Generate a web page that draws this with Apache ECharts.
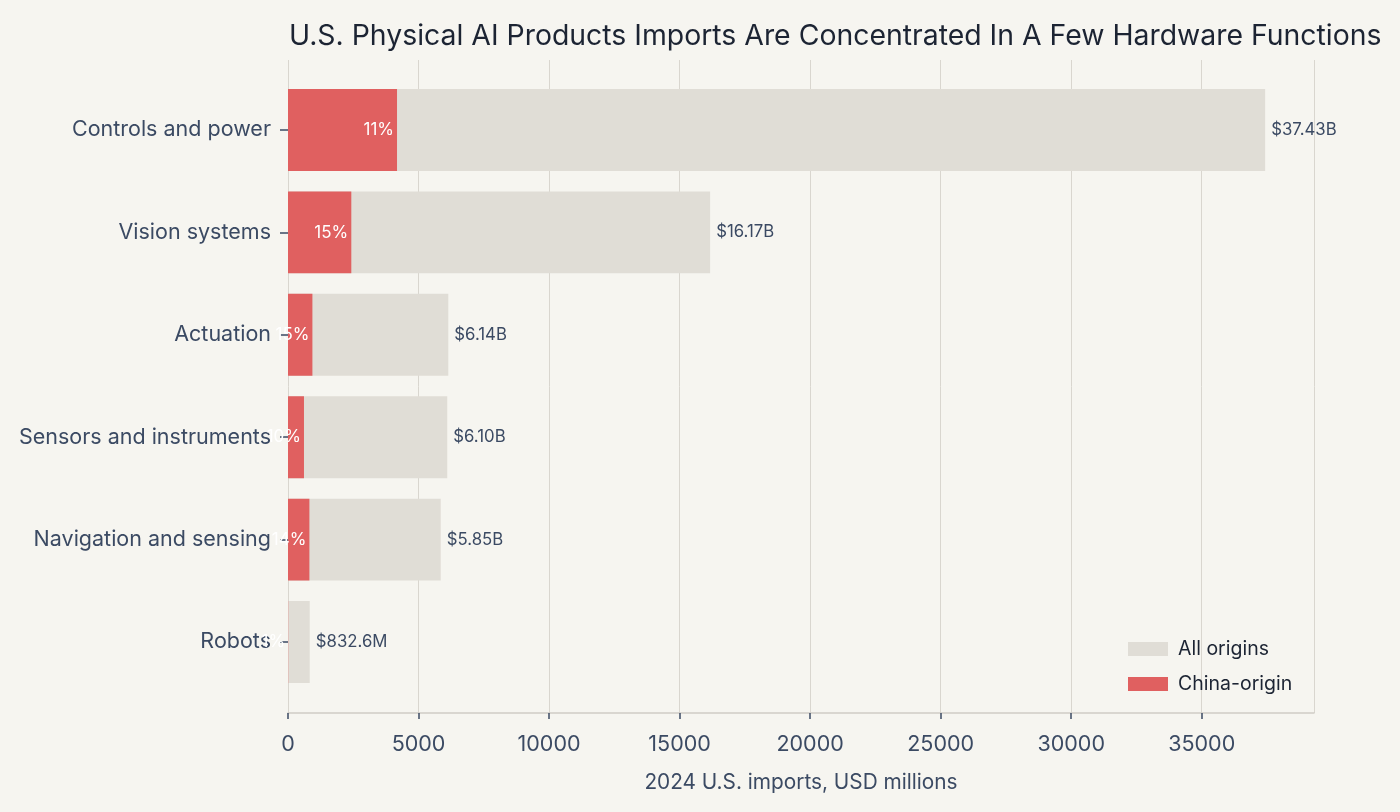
<!DOCTYPE html>
<html><head><meta charset="utf-8">
<script src="https://cdn.jsdelivr.net/npm/echarts@6/dist/echarts.min.js"></script>
<style>html,body{margin:0;padding:0;background:#f6f5f0}#c{width:1400px;height:812px}</style>
</head><body><div id="c"></div>
<script>
const categories = ["Controls and power","Vision systems","Actuation","Sensors and instruments","Navigation and sensing","Robots"];
const allOrigins = [37430, 16170, 6140, 6100, 5850, 832.6];
const chinaOrigin = [4176, 2425, 935, 612, 820, 8];
const totalLabels = ["$37.43B","$16.17B","$6.14B","$6.10B","$5.85B","$832.6M"];
const xTicks = [0,5000,10000,15000,20000,25000,30000,35000];

const FONT = 'Inter, "DejaVu Sans", sans-serif';
const XMAX = 39301.5;
const chart = echarts.init(document.getElementById('c'));
chart.setOption({
  backgroundColor: '#f6f5f0',
  textStyle: {fontFamily: FONT},
  title: {
    text: 'U.S. Physical AI Products Imports Are Concentrated In A Few Hardware Functions',
    left: 284, top: 17,
    textStyle: {fontFamily: FONT, fontSize: 28.4, fontWeight: 'normal', color: '#1c2433'}
  },
  legend: {
    orient: 'vertical', left: 1123, top: 634, itemWidth: 40, itemHeight: 14, itemGap: 15,
    icon: 'rect',
    data: ['All origins','China-origin'],
    textStyle: {fontFamily: FONT, fontSize: 19.5, color: '#1c2433', padding: [0,0,0,5]}
  },
  grid: [
    {left: 288, right: 86, top: 60, bottom: 99},
    {left: 288, right: 86, top: 78.8, bottom: 118.8}
  ],
  xAxis: [
    {
      gridIndex: 0, type: 'value', min: 0, max: XMAX, interval: 5000,
      name: '2024 U.S. imports, USD millions', nameLocation: 'middle', nameGap: 59,
      nameTextStyle: {fontFamily: FONT, fontSize: 20.8, color: '#3b4a63'},
      axisLine: {show: true, lineStyle: {color: '#cfccc5', width: 1.5}},
      axisTick: {show: true, length: 6, lineStyle: {color: '#3b4a63', width: 1.5}},
      axisLabel: {fontFamily: FONT, fontSize: 21.5, color: '#3b4a63', margin: 21,
        showMaxLabel: false,
        formatter: v => xTicks.includes(v) ? String(v) : ''},
      splitLine: {show: true, lineStyle: {color: '#d9d6cf', width: 1}}
    },
    {
      gridIndex: 1, type: 'value', min: 0, max: XMAX, show: false
    }
  ],
  yAxis: [
    {gridIndex: 0, type: 'value', show: false, min: 0, max: 1},
    {
      gridIndex: 1, type: 'category', data: categories, inverse: true,
      axisLine: {show: false},
      axisTick: {show: true, alignWithLabel: true, length: 8, lineStyle: {color: '#3b4a63', width: 1.5}},
      axisLabel: {fontFamily: FONT, fontSize: 21.5, color: '#3b4a63', margin: 17, padding: [6,0,0,0]}
    }
  ],
  series: [
    {
      name: 'All origins', type: 'bar', xAxisIndex: 1, yAxisIndex: 1,
      data: allOrigins, barWidth: '80%', barGap: '-100%',
      itemStyle: {color: '#e0ddd6'},
      label: {show: true, position: 'right', distance: 6, fontFamily: FONT, fontSize: 16.8, color: '#3b4a63',
        padding: [4,0,0,0],
        formatter: p => totalLabels[p.dataIndex]},
      z: 2
    },
    {
      name: 'China-origin', type: 'bar', xAxisIndex: 1, yAxisIndex: 1,
      data: chinaOrigin, barWidth: '80%', barGap: '-100%',
      itemStyle: {color: '#e06060'},
      label: {show: true, position: 'insideRight', distance: 3, fontFamily: FONT, fontSize: 17, color: '#ffffff',
        padding: [4,0,0,0],
        formatter: p => Math.round(chinaOrigin[p.dataIndex] / allOrigins[p.dataIndex] * 100) + '%'},
      z: 3
    }
  ]
});
</script></body></html>
